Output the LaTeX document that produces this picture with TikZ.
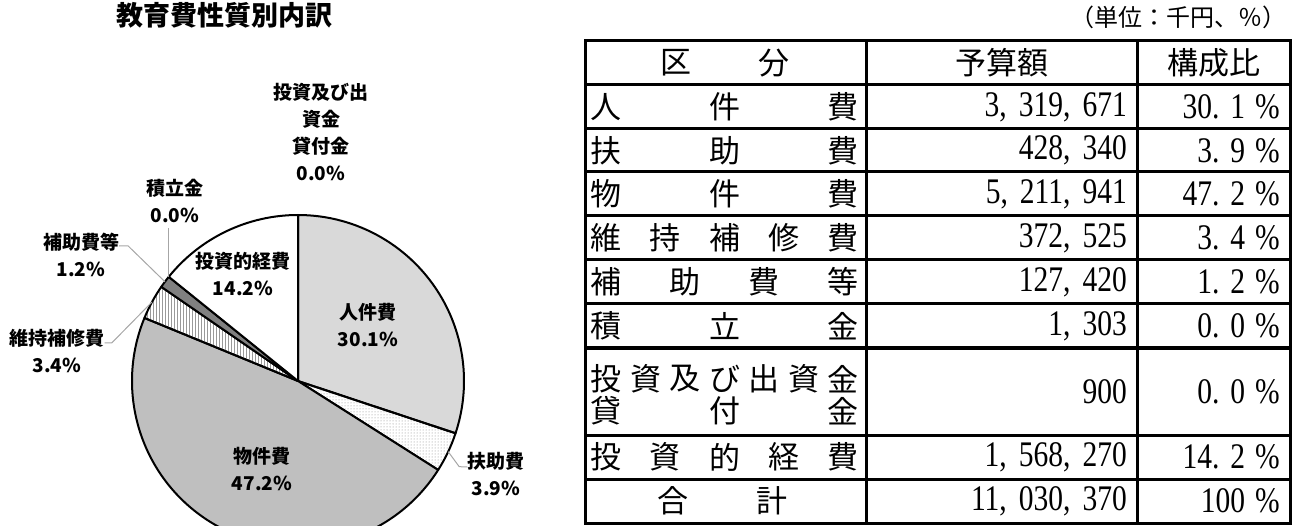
\documentclass[tikz,border=0pt]{standalone}
\usepackage{fontspec}
\newfontfamily\jpsans{Noto Sans CJK JP}
\newfontfamily\numserif{Liberation Serif}[FakeStretch=0.82]
\usetikzlibrary{patterns}

\tikzset{
  pielabel/.style={font=\jpsans\bfseries\fontsize{19}{27}\selectfont, align=center, inner sep=0pt},
  slice/.style={draw=black, line width=2pt, line join=round},
  jinken/.style={fill=black!15},
  fujo/.style={pattern=dots, pattern color=gray},
  buken/.style={fill=black!25},
  iji/.style={pattern=vertical lines, pattern color=gray!80},
  hojo/.style={fill=black!50},
  toshi/.style={fill=white},
  leader/.style={draw=gray!70, line width=1pt},
  tablerule/.style={black, line width=3pt},
  kubun/.style={font=\jpsans\fontsize{31}{32}\selectfont, inner sep=0pt},
  amount/.style={font=\numserif\fontsize{36}{36}\selectfont, inner sep=0pt, anchor=east},
}

\newcommand\numsep{,\kern12pt}
\newcommand\pc[2]{#1.\kern11pt #2\kern10pt\%}
% one row of the first column, characters spread over the cell
\newcommand\spreadrow[4]{%
  \foreach \ch [count=\k from 0] in {#4}
    \node[kubun] (#1-\k) at ({606+\k*237/#3}, #2) {\ch};}

\begin{document}
\begin{tikzpicture}[x=1pt, y=-1pt]
\useasboundingbox (0,0) rectangle (1295,526);

\node[font=\jpsans\bfseries\fontsize{27}{27}\selectfont, inner sep=0pt] (title) at (224,15) {教育費性質別内訳};
\node[font=\jpsans\fontsize{24}{24}\selectfont, inner sep=0pt, anchor=east] (unit) at (1287,17) {（単位：千円、％）};

% pie, cut at the lower edge
\coordinate (c) at (298,381);
\begin{scope}
\clip (0,0) rectangle (1295,526);
\foreach \a/\b/\s in {-90/18.36/jinken, 18.36/32.4/fujo, 32.4/202.32/buken, 202.32/214.56/iji, 214.56/218.88/hojo, 218.88/270/toshi}
  \path[slice, \s] (c) -- ++(\a:166) arc[start angle=\a, end angle=\b, radius=166] -- cycle;
\end{scope}

\path (c) ++(25.2:166) coordinate (fujo-pt);
\path (c) ++(208.44:166) coordinate (iji-pt);
\path (c) ++(216.72:166) coordinate (hojo-pt);
\path (c) ++(218.88:166) coordinate (tsumi-pt);

\node[pielabel] (jinken-lbl) at (368,325.5) {人件費\\30.1\%};
\node[pielabel] (fujo-lbl) at (496,474.5) {扶助費\\3.9\%};
\node[pielabel] (buken-lbl) at (262,469.5) {物件費\\47.2\%};
\node[pielabel] (iji-lbl) at (57,350.5) {維持補修費\\3.4\%};
\node[pielabel] (hojo-lbl) at (81,254.5) {補助費等\\1.2\%};
\node[pielabel] (tsumi-lbl) at (175,201) {積立金\\0.0\%};
\node[pielabel] (shusshi-lbl) at (321,132) {投資及び出\\資金\\貸付金\\0.0\%};
\node[pielabel] (toshi-lbl) at (243,274.5) {投資的経費\\14.2\%};

\draw[leader] ([yshift=8.5pt]hojo-lbl.east) -- ++(9,0) -- (hojo-pt);
\draw[leader] ([yshift=7.5pt]iji-lbl.east) -- ++(7,0) -- (iji-pt);
\draw[leader, shorten <=5pt] (tsumi-pt |- tsumi-lbl.south) -- (tsumi-pt);
\draw[leader] (fujo-pt) -- ++(11,15) -- ([yshift=7.5pt]fujo-lbl.west);

% table
\foreach \y in {85,129,172,216,260,304,348,435,479}
  \draw[tablerule] (585,\y) -- (1290,\y);
\draw[tablerule] (866,41) -- (866,523);
\draw[tablerule] (1137,41) -- (1137,523);
\draw[tablerule] (585,41) rectangle (1290,523);

\node[kubun] (kubun-a) at (676,63) {区};
\node[kubun] (kubun-b) at (774,63) {分};
\node[kubun] (yosan-h) at (1001.5,63) {予算額};
\node[kubun] (kosei-h) at (1213.5,63) {構成比};

\spreadrow{r1}{107}{2}{人,件,費}
\spreadrow{r2}{150.5}{2}{扶,助,費}
\spreadrow{r3}{194}{2}{物,件,費}
\spreadrow{r4}{238}{4}{維,持,補,修,費}
\spreadrow{r5}{282}{3}{補,助,費,等}
\spreadrow{r6}{326}{2}{積,立,金}
\spreadrow{r7}{379}{6}{投,資,及,び,出,資,金}
\spreadrow{r8}{411}{2}{貸,付,金}
\spreadrow{r9}{457}{4}{投,資,的,経,費}
\node[kubun] (gokei-a) at (673,501) {合};
\node[kubun] (gokei-b) at (772,501) {計};

\foreach \n/\y/\amt/\pct in {r1/107/{3\numsep 319\numsep 671}/{\pc{30}{1}},
    r2/150.5/{428\numsep 340}/{\pc{3}{9}}, r3/194/{5\numsep 211\numsep 941}/{\pc{47}{2}},
    r4/238/{372\numsep 525}/{\pc{3}{4}}, r5/282/{127\numsep 420}/{\pc{1}{2}},
    r6/326/{1\numsep 303}/{\pc{0}{0}}, r7/391.5/{900}/{\pc{0}{0}},
    r9/457/{1\numsep 568\numsep 270}/{\pc{14}{2}}, gokei/501/{11\numsep 030\numsep 370}/{100\kern10pt\%}}{
  \node[amount] (\n-amt) at (1127,\y) {\amt};
  \node[amount] (\n-pct) at (1280,\y) {\pct};
}
\end{tikzpicture}
\end{document}
